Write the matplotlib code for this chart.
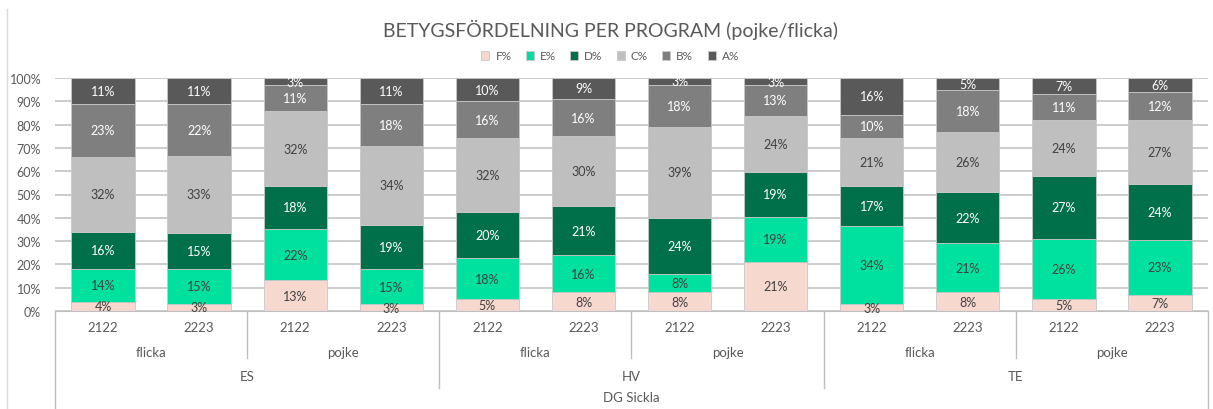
import matplotlib.pyplot as plt
from matplotlib.lines import Line2D
import numpy as np

plt.rcParams['font.family'] = ['Lato', 'DejaVu Sans']

# data
programs = ['ES', 'HV', 'TE']
genders = ['flicka', 'pojke']
years = ['2122', '2223']
grades = ['F%', 'E%', 'D%', 'C%', 'B%', 'A%']

f_pct = [4, 3, 13, 3, 5, 8, 8, 21, 3, 8, 5, 7]
e_pct = [14, 15, 22, 15, 18, 16, 8, 19, 34, 21, 26, 23]
d_pct = [16, 15, 18, 19, 20, 21, 24, 19, 17, 22, 27, 24]
c_pct = [32, 33, 32, 34, 32, 30, 39, 24, 21, 26, 24, 27]
b_pct = [23, 22, 11, 18, 16, 16, 18, 13, 10, 18, 11, 12]
a_pct = [11, 11, 3, 11, 10, 9, 3, 3, 16, 5, 7, 6]

colors = ['#F6D8CE', '#00E09E', '#00704A', '#BFBFBF', '#7F7F7F', '#595959']
label_colors = ['#404040', '#404040', 'white', '#404040', 'white', 'white']
txt = '#595959'

series = [f_pct, e_pct, d_pct, c_pct, b_pct, a_pct]
# labels are rounded, so scale each bar to fill 100% like a 100% stacked chart
totals = np.sum(np.array(series, dtype=float), axis=0)

fig = plt.figure(figsize=(12.13, 4.10), dpi=100)
ax = fig.add_axes([55/1213, 98/410, 1153/1213, 233/410])

x = np.arange(len(f_pct))
bottom = np.zeros(len(x))
for vals, col, lc, name in zip(series, colors, label_colors, grades):
    v = np.array(vals, dtype=float) / totals * 100
    ax.bar(x, v, 0.66, bottom=bottom, color=col, edgecolor='#C8C8C8',
           linewidth=0.6, label=name, zorder=2)
    for xi, b, h, lab in zip(x, bottom, v, vals):
        ax.text(xi, b + h / 2, f'{lab}%', ha='center', va='center',
                fontsize=9, color=lc, zorder=3)
    bottom += v

ax.set_xlim(-0.5, len(x) - 0.5)
ax.set_ylim(0, 100)
ax.set_yticks(range(0, 101, 10))
ax.set_yticklabels([f'{t}%' for t in range(0, 101, 10)], fontsize=9, color=txt)
ax.yaxis.grid(True, color='#C8C8C8', linewidth=1.3, zorder=0)
ax.tick_params(axis='y', length=0, pad=10)
ax.set_xticks([])
for s in ['top', 'right', 'left']:
    ax.spines[s].set_visible(False)
ax.spines['bottom'].set_color('#BFBFBF')

# multi-level category axis
tr = ax.get_xaxis_transform()
for i, xi in enumerate(x):
    ax.text(xi, -0.07, years[i % 2], transform=tr, ha='center', va='center',
            fontsize=9.5, color=txt)
for j in range(6):
    ax.text(2 * j + 0.5, -0.175, genders[j % 2], transform=tr, ha='center',
            va='center', fontsize=9.5, color=txt)
for k, p in enumerate(programs):
    ax.text(4 * k + 1.5, -0.28, p, transform=tr, ha='center', va='center',
            fontsize=9.5, color=txt)
ax.text(5.5, -0.37, 'DG Sickla', transform=tr, ha='center', va='center',
        fontsize=9.5, color=txt)

for j in range(1, 6):
    depth = -0.33 if j % 2 == 0 else -0.2
    ax.plot([2 * j - 0.5] * 2, [0, depth], transform=tr, color='#BFBFBF',
            lw=1, clip_on=False)
for xe in [-0.5, len(x) - 0.5]:
    ax.plot([xe, xe], [0, -0.42], transform=tr, color='#BFBFBF', lw=1,
            clip_on=False)

fig.add_artist(Line2D([7/1213, 7/1213], [0, 400/410], color='#D9D9D9', lw=1))

fig.text(0.503, 1 - 30/410, 'BETYGSFÖRDELNING PER PROGRAM (pojke/flicka)',
         ha='center', va='center', fontsize=14, color=txt)
fig.legend(loc='center', bbox_to_anchor=(0.503, 1 - 57/410), ncol=6,
           frameon=False, fontsize=8.5, labelcolor=txt, handlelength=0.7,
           handleheight=0.7, handletextpad=0.5, columnspacing=1.2)

fig.savefig('out.png', dpi=100)
